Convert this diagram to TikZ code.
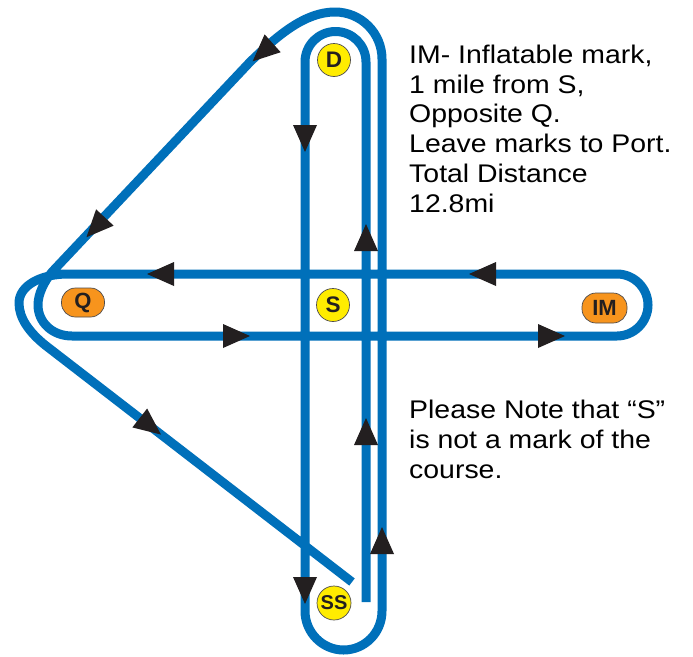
\documentclass[tikz,border=0pt]{standalone}
\usepackage{fontspec}
\setmainfont{Liberation Sans}
\newfontfamily\notefont[FakeStretch=1.115]{Liberation Sans}
\definecolor{course}{RGB}{0,112,186}
\definecolor{markyellow}{RGB}{255,236,0}
\definecolor{markorange}{RGB}{247,148,29}
\definecolor{ink}{RGB}{35,31,32}
\tikzset{
  coursepath/.style={draw=course, line width=9pt, line join=round},
  ymark/.style={circle, fill=markyellow, draw=ink!80, line width=0.7pt, minimum size=33pt, inner sep=0pt, text=ink, font=\fontsize{22.5}{22.5}\selectfont\bfseries},
  omark/.style={rounded corners=14pt, rectangle, fill=markorange, draw=ink!80, line width=0.7pt, inner sep=0pt, text=ink, font=\fontsize{22}{22}\selectfont\bfseries},
  arrowtri/.style={fill=ink},
  note/.style={anchor=base west, inner sep=0pt, text=black, font=\notefont\fontsize{25.5}{29.8}\selectfont}
}
\newcommand\coursearrow[3]{\fill[arrowtri, shift={(#1,#2)}, rotate=#3] (14,0) -- (-13,12) -- (-13,-12) -- cycle;}
\begin{document}
\begin{tikzpicture}[x=1pt, y=-1pt]
\useasboundingbox (0,0) rectangle (693,656);
\fill[white] (0,0) rectangle (693,656);
% course
\path[coursepath] (366,602) -- (366,62)
  .. controls (366,45) and (352.5,31.5) .. (335.5,31.5)
  .. controls (318.7,31.5) and (305,45) .. (305,62)
  -- (305,611)
  .. controls (305,632.5) and (322.5,650) .. (343.5,650)
  .. controls (365,650) and (382,632.5) .. (382,611)
  -- (382,59)
  .. controls (382,33) and (361,12) .. (335,12)
  .. controls (305,12) and (278,35) .. (250,62)
  -- (52,272)
  .. controls (44,282) and (38,294) .. (38,305)
  .. controls (38,322) and (52,336) .. (72,336)
  -- (617,336)
  .. controls (634,336) and (648,322) .. (648,305)
  .. controls (648,288) and (634,274) .. (617,274)
  -- (68,274)
  .. controls (40,274) and (19,286) .. (19,303)
  .. controls (19,318) and (29,332) .. (45,345)
  -- (352,582);
% arrows
\coursearrow{305}{138}{270}
\coursearrow{366}{238}{90}
\coursearrow{366}{432}{90}
\coursearrow{382}{541}{90}
\coursearrow{305}{590}{270}
\coursearrow{161}{274}{180}
\coursearrow{483}{274}{180}
\coursearrow{236}{336}{0}
\coursearrow{551}{336}{0}
\coursearrow{263}{52}{222}
\coursearrow{96}{227}{227}
\coursearrow{150}{426}{322}
% marks
\node[ymark] (D) at (334,60) {D};
\node[ymark] (S) at (333,305) {S};
\node[ymark, minimum size=34pt] (SS) at (334,603) {\fontsize{20}{20}\selectfont SS};
\node[omark, minimum width=43pt, minimum height=29pt] (Q) at (83,302.5) {Q};
\node[omark, minimum width=45pt, minimum height=30pt] (IM) at (604.5,308) {IM};
% notes
\node[note] (info1) at (409,63) {IM- Inflatable mark,};
\node[note] (info2) at (409,93) {1 mile from S,};
\node[note] (info3) at (409,122.5) {Opposite Q.};
\node[note] (info4) at (409,152) {Leave marks to Port.};
\node[note] (info5) at (409,182) {Total Distance};
\node[note] (info6) at (409,212) {12.8mi};
\node[note] (pnote1) at (409,418) {Please Note that “S”};
\node[note] (pnote2) at (409,448) {is not a mark of the};
\node[note] (pnote3) at (409,478) {course.};
\end{tikzpicture}
\end{document}
